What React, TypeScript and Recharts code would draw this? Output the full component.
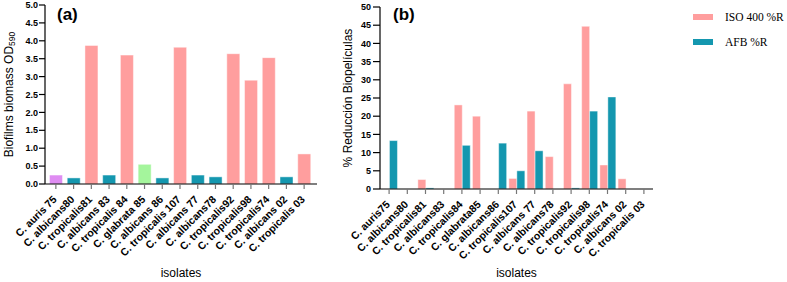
import React from 'react';
import { BarChart, Bar, XAxis, YAxis, Cell, Legend, Customized } from 'recharts';

// ---- Data (a) ----
const isolatesA = [
  'C. auris 75', 'C. albicans80', 'C. tropicalis81', 'C. albicans 83', 'C. tropicalis 84',
  'C. glabrata 85', 'C. albicans 86', 'C. tropicalis 107', 'C. albicans 77', 'C. albicans78',
  'C. tropicalis92', 'C. tropicalis98', 'C. tropicalis74', 'C. albicans 02', 'C. tropicalis 03',
];
const biomassOD = [0.25, 0.17, 3.87, 0.25, 3.6, 0.55, 0.17, 3.82, 0.25, 0.2, 3.64, 2.9, 3.53, 0.2, 0.84];
const ticksA = [0, 0.5, 1, 1.5, 2, 2.5, 3, 3.5, 4, 4.5, 5];

// ---- Data (b) ----
const isolatesB = [
  'C. auris75', 'C. albicans80', 'C. tropicalis81', 'C. albicans83', 'C. tropicalis84',
  'C. glabrata85', 'C. albicans86', 'C. tropicalis107', 'C. albicans 77', 'C. albicans78',
  'C. tropicalis92', 'C. tropicalis98', 'C. tropicalis74', 'C. albicans 02', 'C. tropicalis 03',
];
const iso400R = [0, 0, 2.6, 0, 23.1, 20.0, 0, 2.9, 21.4, 8.9, 28.9, 44.7, 6.6, 2.8, 0];
const afbR = [13.3, 0, 0.3, 0, 12.0, 0, 12.6, 5.0, 10.5, 0, 0.3, 21.4, 25.3, 0, 0];
const ticksB = [0, 5, 10, 15, 20, 25, 30, 35, 40, 45, 50];
const seriesNames = ['ISO 400 %R', 'AFB %R'];

const PINK = '#FF9E9E';
const TEAL = '#1497AF';
const PURPLE = '#DF8CF2';
const GREEN = '#A4F59C';

const speciesColor = (name: string) => {
  if (name.includes('auris')) return PURPLE;
  if (name.includes('glabrata')) return GREEN;
  if (name.includes('albicans')) return TEAL;
  return PINK;
};

const dataA = isolatesA.map((name, i) => ({ name, od: biomassOD[i] }));
const dataB = isolatesB.map((name, i) => ({ name, iso: iso400R[i], afb: afbR[i] }));

const SANS = '"Liberation Sans", Arial, Helvetica, sans-serif';
const SERIF = '"Liberation Serif", "Times New Roman", serif';

const AngledTick = (props: any) => {
  const { x, y, payload } = props;
  return (
    <g transform={`translate(${x + 1.5},${y + 9})`}>
      <text
        x={0}
        y={0}
        textAnchor="end"
        transform="rotate(-45)"
        fontSize={10.5}
        fontWeight="bold"
        fontFamily={SANS}
        fill="#000"
      >
        {payload.value}
      </text>
    </g>
  );
};

const YTitleA = (props: any) => {
  const vb = props.viewBox || {};
  const cx = 9;
  const cy = vb.y + vb.height / 2;
  return (
    <text
      x={cx}
      y={cy}
      transform={`rotate(-90, ${cx}, ${cy})`}
      textAnchor="middle"
      dominantBaseline="central"
      fontSize={12}
      fontFamily={SANS}
      fill="#000"
    >
      Biofilms biomass OD
      <tspan fontSize={8.5} dy={3}>590</tspan>
    </text>
  );
};

const YTitleB = (props: any) => {
  const vb = props.viewBox || {};
  const cx = 18;
  const cy = vb.y + vb.height / 2;
  return (
    <text
      x={cx}
      y={cy}
      transform={`rotate(-90, ${cx}, ${cy})`}
      textAnchor="middle"
      dominantBaseline="central"
      fontSize={12}
      fontFamily={SANS}
      fill="#000"
    >
      % Reducción Biopelículas
    </text>
  );
};

const XTitle = (props: any) => {
  const vb = props.viewBox || {};
  const cx = vb.x + vb.width / 2;
  return (
    <text x={cx} y={277} textAnchor="middle" fontSize={12} fontFamily={SANS} fill="#000">
      isolates
    </text>
  );
};

const PanelLabel = ({ text, x }: { text: string; x: number }) => (
  <text x={x} y={20} fontSize={17} fontWeight="bold" fontFamily={SANS} fill="#000">
    {text}
  </text>
);

const LegendContent = (props: any) => {
  const payload = [...(props.payload || [])].sort(
    (a: any, b: any) => seriesNames.indexOf(a.value) - seriesNames.indexOf(b.value)
  );
  return (
    <div>
      {payload.map((item: any) => (
        <div
          key={item.value}
          style={{ display: 'flex', alignItems: 'center', height: 24.5 }}
        >
          <span
            style={{ display: 'inline-block', width: 20, height: 6, background: item.color, marginRight: 12 }}
          />
          <span style={{ fontFamily: SERIF, fontSize: 11.5, color: '#000', whiteSpace: 'nowrap' }}>
            {item.value}
          </span>
        </div>
      ))}
    </div>
  );
};

export default function App() {
  return (
    <div style={{ position: 'absolute', left: 0, top: 0, width: 787, height: 282, background: '#fff' }}>
      <div style={{ position: 'absolute', left: 0, top: 0 }}>
        <BarChart
          width={330}
          height={282}
          data={dataA}
          margin={{ top: 5, right: 13, left: 0, bottom: 0 }}
          barCategoryGap="14%"
        >
          <XAxis
            dataKey="name"
            interval={0}
            height={98}
            tick={<AngledTick />}
            tickSize={5}
            tickMargin={2}
            padding={{ left: 2, right: 4 }}
            axisLine={{ stroke: '#000', strokeWidth: 1.2 }}
            tickLine={{ stroke: '#777', strokeWidth: 1.2 }}
            label={{ content: <XTitle /> }}
          />
          <YAxis
            width={45}
            domain={[0, 5]}
            ticks={ticksA}
            tickFormatter={(v: number) => v.toFixed(1)}
            tickSize={6}
            tickMargin={1}
            tick={{ fontSize: 9, fontWeight: 'bold', fill: '#000', fontFamily: SANS }}
            axisLine={{ stroke: '#000', strokeWidth: 1.2 }}
            tickLine={{ stroke: '#000', strokeWidth: 1.2 }}
            label={{ content: <YTitleA /> }}
          />
          <Bar dataKey="od" isAnimationActive={false} stroke="#ffffff" strokeOpacity={0.45} strokeWidth={1}>
            {dataA.map((d) => (
              <Cell key={d.name} fill={speciesColor(d.name)} />
            ))}
          </Bar>
          <Customized component={() => <PanelLabel text="(a)" x={57} />} />
        </BarChart>
      </div>
      <div style={{ position: 'absolute', left: 330, top: 0 }}>
        <BarChart
          width={457}
          height={282}
          data={dataB}
          margin={{ top: 7, right: 134, left: 0, bottom: 0 }}
          barCategoryGap="8%"
          barGap={0}
        >
          <XAxis
            dataKey="name"
            interval={0}
            height={93}
            tick={<AngledTick />}
            tickSize={5}
            tickMargin={2}
            padding={{ left: 0, right: 0 }}
            axisLine={{ stroke: '#000', strokeWidth: 1.2 }}
            tickLine={{ stroke: '#777', strokeWidth: 1.2 }}
            label={{ content: <XTitle /> }}
          />
          <YAxis
            width={50}
            domain={[0, 50]}
            ticks={ticksB}
            tickSize={7}
            tickMargin={2}
            tick={{ fontSize: 9, fontWeight: 'bold', fill: '#000', fontFamily: SANS }}
            axisLine={{ stroke: '#000', strokeWidth: 1.2 }}
            tickLine={{ stroke: '#000', strokeWidth: 1.2 }}
            label={{ content: <YTitleB /> }}
          />
          <Legend
            layout="horizontal"
            verticalAlign="middle"
            align="center"
            content={<LegendContent />}
            wrapperStyle={{ position: 'absolute', left: 363, top: 5, width: 100, height: 50 }}
          />
          <Bar dataKey="iso" name="ISO 400 %R" fill={PINK} isAnimationActive={false} stroke="#ffffff" strokeOpacity={0.45} strokeWidth={1} />
          <Bar dataKey="afb" name="AFB %R" fill={TEAL} isAnimationActive={false} stroke="#ffffff" strokeOpacity={0.45} strokeWidth={1} />
          <Customized component={() => <PanelLabel text="(b)" x={63} />} />
        </BarChart>
      </div>
    </div>
  );
}
